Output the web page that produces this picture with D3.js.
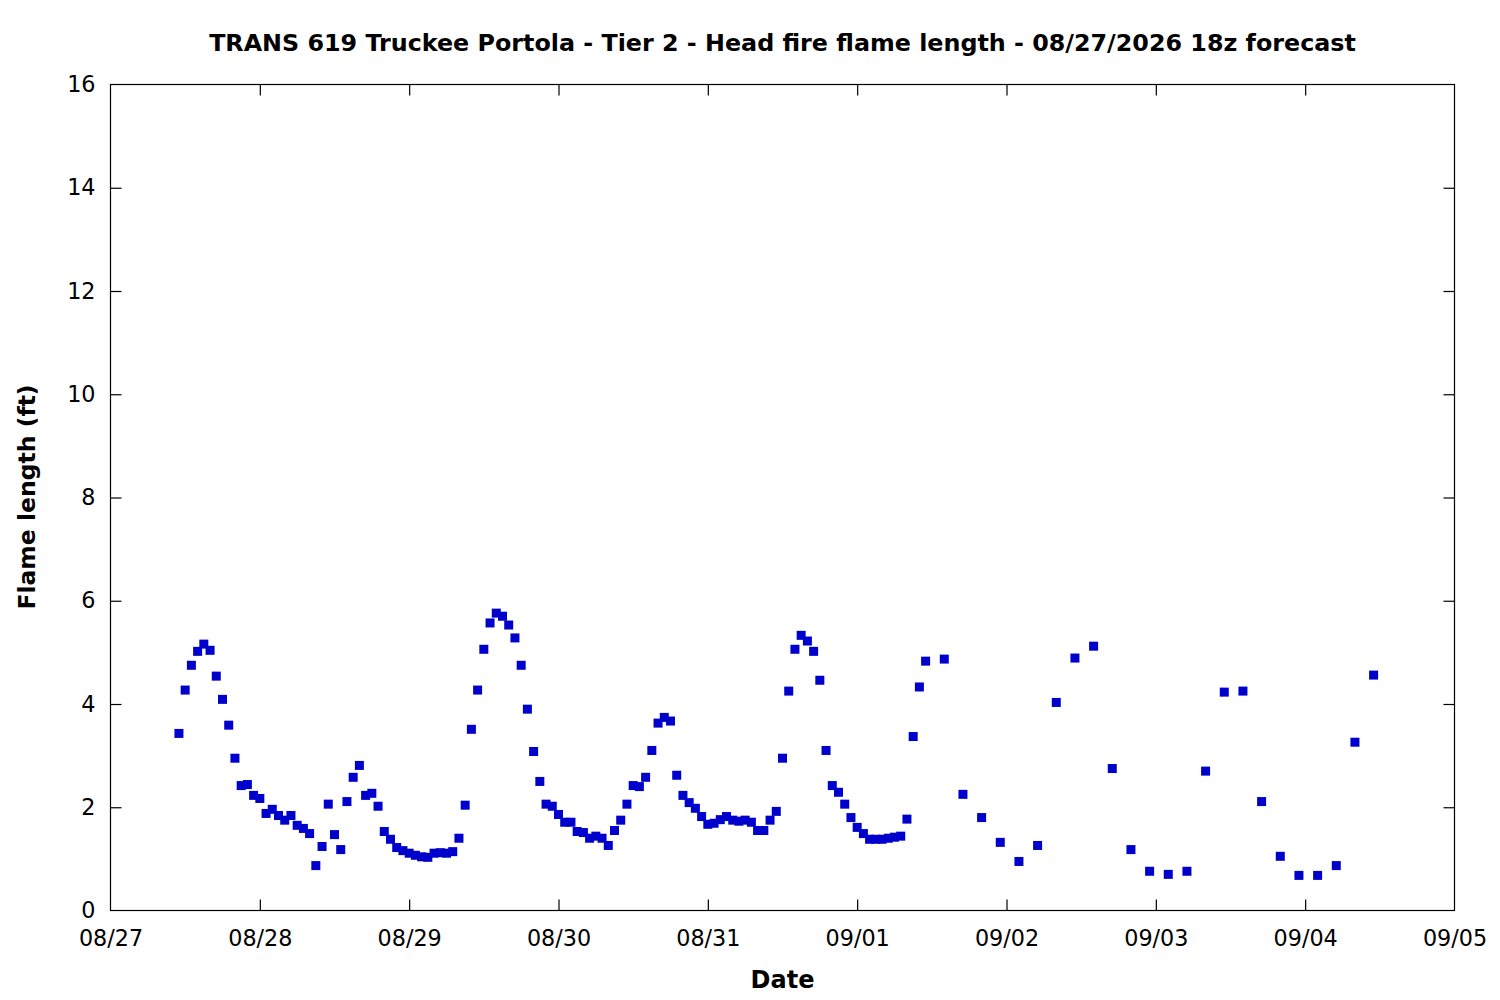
<!DOCTYPE html>
<html>
<head>
<meta charset="utf-8">
<script src="https://cdn.jsdelivr.net/npm/d3@7"></script>
<style>
body { margin: 0; background: #fff; }
text { font-family: "DejaVu Sans", sans-serif; fill: #000; }
</style>
</head>
<body>
<svg width="1500" height="1000"></svg>
<script>
// hourly values, starting 08/27 11:00
var hourlyStart = new Date(Date.UTC(2026, 7, 27, 11));
var hourlyValues = [
	3.43, 4.27, 4.75, 5.02, 5.16, 5.04, 4.54, 4.09, 3.59, 2.95,
	2.42, 2.44, 2.23, 2.17, 1.88, 1.96, 1.84, 1.75, 1.84, 1.65,
	1.59, 1.49, 0.87, 1.24, 2.06, 1.47, 1.18, 2.11, 2.58, 2.81,
	2.23, 2.27, 2.02, 1.53, 1.38, 1.22, 1.16, 1.11, 1.07, 1.04,
	1.03, 1.11, 1.12, 1.11, 1.14, 1.40, 2.04, 3.51, 4.27, 5.06,
	5.57, 5.76, 5.70, 5.53, 5.28, 4.75, 3.90, 3.08, 2.50, 2.06,
	2.02, 1.86, 1.71, 1.71, 1.53, 1.51, 1.40, 1.44, 1.40, 1.26,
	1.55, 1.75, 2.06, 2.42, 2.40, 2.58, 3.10, 3.63, 3.74, 3.67,
	2.62, 2.23, 2.09, 1.98, 1.82, 1.67, 1.69, 1.76, 1.82, 1.75,
	1.73, 1.75, 1.71, 1.55, 1.55, 1.75, 1.92, 2.95, 4.25, 5.06,
	5.33, 5.22, 5.02, 4.46, 3.10, 2.42, 2.29, 2.06, 1.80, 1.61,
	1.49, 1.38, 1.38, 1.38, 1.40, 1.42, 1.44, 1.77, 3.37, 4.33,
	4.83
];

// 3-hourly values, starting 09/01 14:00
var threeHourlyStart = new Date(Date.UTC(2026, 8, 1, 14));
var threeHourlyValues = [
	4.87, 2.25, 1.80, 1.32, 0.95, 1.26, 4.03, 4.89, 5.12, 2.75,
	1.18, 0.76, 0.70, 0.76, 2.70, 4.23, 4.25, 2.11, 1.05, 0.68,
	0.68, 0.87, 3.26, 4.56
];

var yTicks = [0, 2, 4, 6, 8, 10, 12, 14, 16];
var xStart = new Date(Date.UTC(2026, 7, 27));
var xEnd = new Date(Date.UTC(2026, 8, 5));

var titleText = "TRANS 619 Truckee Portola - Tier 2 - Head fire flame length - 08/27/2026 18z forecast";
var xLabel = "Date";
var yLabel = "Flame length (ft)";

var svg = d3.select("svg");
var plotLeft = 110.5, plotRight = 1454.5, plotTop = 84.5, plotBottom = 910.5;

var x = d3.scaleUtc().domain([xStart, xEnd]).range([plotLeft, plotRight]);
var y = d3.scaleLinear().domain([0, 16]).range([plotBottom, plotTop]);

// build point list from the two series
var points = [];
hourlyValues.forEach(function(v, i) {
	points.push({ t: d3.utcHour.offset(hourlyStart, i), v: v });
});
threeHourlyValues.forEach(function(v, i) {
	points.push({ t: d3.utcHour.offset(threeHourlyStart, i * 3), v: v });
});

var tickLen = 11;
var dayTicks = d3.utcDay.range(xStart, d3.utcDay.offset(xEnd, 1));
var fmt = d3.utcFormat("%m/%d");

// axes (bottom / left with labels, top / right mirrored, ticks inward)
var xAxis = d3.axisBottom(x).tickValues(dayTicks).tickFormat(fmt)
	.tickSizeInner(-tickLen).tickSizeOuter(0).tickPadding(20);
var xAxisTop = d3.axisTop(x).tickValues(dayTicks).tickFormat("")
	.tickSizeInner(-tickLen).tickSizeOuter(0);
var yAxis = d3.axisLeft(y).tickValues(yTicks)
	.tickSizeInner(-tickLen).tickSizeOuter(0).tickPadding(15);
var yAxisRight = d3.axisRight(y).tickValues(yTicks).tickFormat("")
	.tickSizeInner(-tickLen).tickSizeOuter(0);

function styleAxis(g)
{
	g.select(".domain").remove();
	g.selectAll("line").attr("stroke", "#000").attr("stroke-width", 1.2);
	g.selectAll("text").attr("font-family", "DejaVu Sans").attr("font-size", 22.3).attr("fill", "#000");
}

svg.append("g").attr("transform", "translate(0," + plotBottom + ")").call(xAxis).call(styleAxis);
svg.append("g").attr("transform", "translate(0," + plotTop + ")").call(xAxisTop).call(styleAxis);
svg.append("g").attr("transform", "translate(" + plotLeft + ",0)").call(yAxis).call(styleAxis);
svg.append("g").attr("transform", "translate(" + plotRight + ",0)").call(yAxisRight).call(styleAxis);

// drop the end ticks that sit on the border
svg.selectAll("g.tick line").each(function(d) {
	if (+d === +xStart || +d === +xEnd || d === 0 || d === 16)
		d3.select(this).remove();
});

// border
svg.append("rect")
	.attr("x", plotLeft).attr("y", plotTop)
	.attr("width", plotRight - plotLeft).attr("height", plotBottom - plotTop)
	.attr("fill", "none").attr("stroke", "#000").attr("stroke-width", 1.2);

// points
var size = 9;
svg.append("g").selectAll("rect")
	.data(points)
	.enter().append("rect")
	.attr("x", function(d) { return x(d.t) - size / 2; })
	.attr("y", function(d) { return y(d.v) - size / 2; })
	.attr("width", size)
	.attr("height", size)
	.attr("fill", "#0000cc");

// title and labels
svg.append("text")
	.attr("x", (plotLeft + plotRight) / 2).attr("y", 51)
	.attr("text-anchor", "middle")
	.attr("font-weight", "bold").attr("font-size", 23.8)
	.text(titleText);

svg.append("text")
	.attr("x", (plotLeft + plotRight) / 2).attr("y", 988)
	.attr("text-anchor", "middle")
	.attr("font-weight", "bold").attr("font-size", 24)
	.text(xLabel);

svg.append("text")
	.attr("transform", "translate(35," + 497 + ") rotate(-90)")
	.attr("text-anchor", "middle")
	.attr("font-weight", "bold").attr("font-size", 23.5)
	.text(yLabel);
</script>
</body>
</html>
